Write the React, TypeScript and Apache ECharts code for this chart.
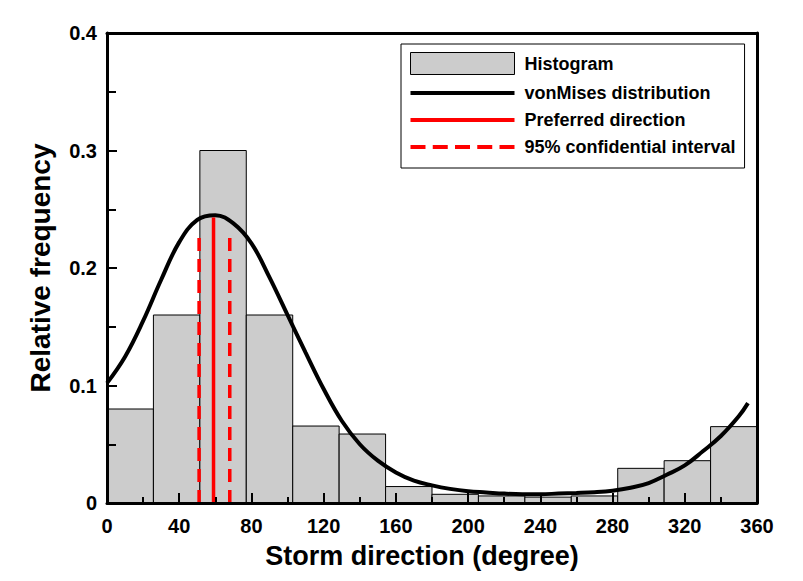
import React, { useEffect, useRef } from "react";
import * as echarts from "echarts";

// Histogram bins (degrees) and relative frequencies
const binEdges = [0, 25.71, 51.43, 77.14, 102.86, 128.57, 154.29, 180, 205.71, 231.43, 257.14, 282.86, 308.57, 334.29, 360];
const histValues = [0.08, 0.16, 0.3, 0.16, 0.0655, 0.0587, 0.014, 0.0074, 0.006, 0.005, 0.006, 0.0295, 0.036, 0.065];

// von Mises curve
const curveAngles = [0, 10, 20, 30, 40, 50, 60, 70, 80, 90, 100, 110, 120, 130, 140, 150, 160, 170, 180, 190, 200, 210, 220, 230, 240, 250, 260, 270, 280, 290, 300, 310, 320, 330, 340, 350, 355];
const curveValues = [0.102, 0.1245, 0.155, 0.19, 0.222, 0.241, 0.245, 0.238, 0.221, 0.192, 0.16, 0.128, 0.097, 0.07, 0.05, 0.036, 0.026, 0.019, 0.015, 0.012, 0.01, 0.009, 0.008, 0.0075, 0.0075, 0.008, 0.0085, 0.0092, 0.0105, 0.013, 0.017, 0.024, 0.032, 0.044, 0.057, 0.074, 0.085];

const preferredDirection = 59;
const preferredTop = 0.243;
const ciBounds = [51, 68];
const ciTop = 0.231;

const seriesNames = ["Histogram", "vonMises distribution", "Preferred direction", "95% confidential interval"];

const FONT = "'Liberation Sans', Arial, sans-serif";

const SOLID_ICON = "path://M0,0L104,0L104,4L0,4Z";
const DASH_ICON =
  "path://M0,0L15,0L15,4L0,4Z M22.25,0L37.25,0L37.25,4L22.25,4Z M44.5,0L59.5,0L59.5,4L44.5,4Z M66.75,0L81.75,0L81.75,4L66.75,4Z M89,0L104,0L104,4L89,4Z";

export default function App() {
  const ref = useRef<HTMLDivElement>(null);
  useEffect(() => {
    document.body.style.margin = "0";
    if (!ref.current) return;
    const chart = echarts.init(ref.current, undefined, { renderer: "svg" });
    const histData = histValues.map((v, i) => [binEdges[i], binEdges[i + 1], v]);
    const curveData = curveAngles.map((a, i) => [a, curveValues[i]]);

    const option: any = {
      animation: false,
      backgroundColor: "#ffffff",
      grid: { left: 107, right: 46, top: 33, bottom: 78 },
      legend: {
        orient: "vertical",
        left: 401,
        top: 44,
        padding: [8, 9, 12, 9],
        borderColor: "#000",
        borderWidth: 1,
        itemGap: 9,
        itemWidth: 104,
        itemHeight: 22,
        selectedMode: false,
        textStyle: { fontSize: 18, fontWeight: "bold", fontFamily: FONT, color: "#000", padding: [0, 0, 0, 5] },
        data: [
          { name: seriesNames[0], icon: "rect", itemStyle: { color: "#cccccc", borderColor: "#000", borderWidth: 1 } },
          { name: seriesNames[1], icon: SOLID_ICON, itemStyle: { color: "#000", borderWidth: 0 } },
          { name: seriesNames[2], icon: SOLID_ICON, itemStyle: { color: "#ff0000", borderWidth: 0 } },
          { name: seriesNames[3], icon: DASH_ICON, itemStyle: { color: "#ff0000", borderWidth: 0 } },
        ],
      },
      xAxis: [
        {
          type: "value",
          min: 0,
          max: 360,
          interval: 40,
          position: "bottom",
          z: 5,
          axisLine: { show: true, onZero: false, lineStyle: { color: "#000", width: 3 } },
          axisTick: { show: true, inside: true, length: 10, lineStyle: { color: "#000", width: 2 } },
          minorTick: { show: true, splitNumber: 2, length: 6, lineStyle: { color: "#000", width: 2 } },
          splitLine: { show: false },
          axisLabel: { fontSize: 20, fontWeight: "bold", fontFamily: FONT, color: "#000", margin: 13 },
          name: "Storm direction (degree)",
          nameLocation: "middle",
          nameGap: 39,
          nameTextStyle: { fontSize: 27, fontWeight: "bold", fontFamily: FONT, color: "#000", padding: [0, 20, 0, 0] },
        },
        {
          type: "value",
          min: 0,
          max: 360,
          position: "top",
          z: 5,
          axisLine: { show: true, onZero: false, lineStyle: { color: "#000", width: 3 } },
          axisTick: { show: false },
          axisLabel: { show: false },
          splitLine: { show: false },
        },
      ],
      yAxis: [
        {
          type: "value",
          min: 0,
          max: 0.4,
          interval: 0.1,
          position: "left",
          z: 5,
          axisLine: { show: true, onZero: false, lineStyle: { color: "#000", width: 3 } },
          axisTick: { show: true, inside: true, length: 10, lineStyle: { color: "#000", width: 2 } },
          minorTick: { show: true, splitNumber: 2, length: 9, lineStyle: { color: "#000", width: 2 } },
          splitLine: { show: false },
          axisLabel: {
            fontSize: 20,
            fontWeight: "bold",
            fontFamily: FONT,
            color: "#000",
            margin: 10,
            formatter: (v: number) => (v === 0 ? "0" : v.toFixed(1)),
          },
          name: "Relative frequency",
          nameLocation: "middle",
          nameGap: 53,
          nameTextStyle: { fontSize: 28, fontWeight: "bold", fontFamily: FONT, color: "#000" },
        },
        {
          type: "value",
          min: 0,
          max: 0.4,
          position: "right",
          z: 5,
          axisLine: { show: true, onZero: false, lineStyle: { color: "#000", width: 3 } },
          axisTick: { show: false },
          axisLabel: { show: false },
          splitLine: { show: false },
        },
      ],
      series: [
        {
          name: seriesNames[0],
          type: "custom",
          z: 2,
          itemStyle: { color: "#cccccc", borderColor: "#000", borderWidth: 1 },
          encode: { x: [0, 1], y: 2 },
          data: histData,
          renderItem: (params: any, api: any) => {
            const p0 = api.coord([api.value(0), api.value(2)]);
            const p1 = api.coord([api.value(1), 0]);
            return {
              type: "rect",
              shape: { x: p0[0], y: p0[1], width: p1[0] - p0[0], height: p1[1] - p0[1] },
              style: { fill: "#cccccc", stroke: "#000", lineWidth: 1 },
            };
          },
        },
        {
          name: seriesNames[1],
          type: "line",
          z: 3,
          smooth: 0.4,
          symbol: "none",
          showSymbol: false,
          color: "#000",
          lineStyle: { color: "#000", width: 4 },
          data: curveData,
        },
        {
          name: seriesNames[2],
          type: "line",
          z: 4,
          symbol: "none",
          showSymbol: false,
          color: "#ff0000",
          lineStyle: { color: "#ff0000", width: 3.5 },
          data: [
            [preferredDirection, 0],
            [preferredDirection, preferredTop],
          ],
        },
        ...ciBounds.map((b) => ({
          name: seriesNames[3],
          type: "line",
          z: 4,
          symbol: "none",
          showSymbol: false,
          color: "#ff0000",
          lineStyle: { color: "#ff0000", width: 3.5, type: [13, 8] },
          data: [
            [b, 0],
            [b, ciTop],
          ],
        })),
      ],
    };
    chart.setOption(option);
    return () => chart.dispose();
  }, []);
  return <div ref={ref} style={{ width: 803, height: 581 }} />;
}
